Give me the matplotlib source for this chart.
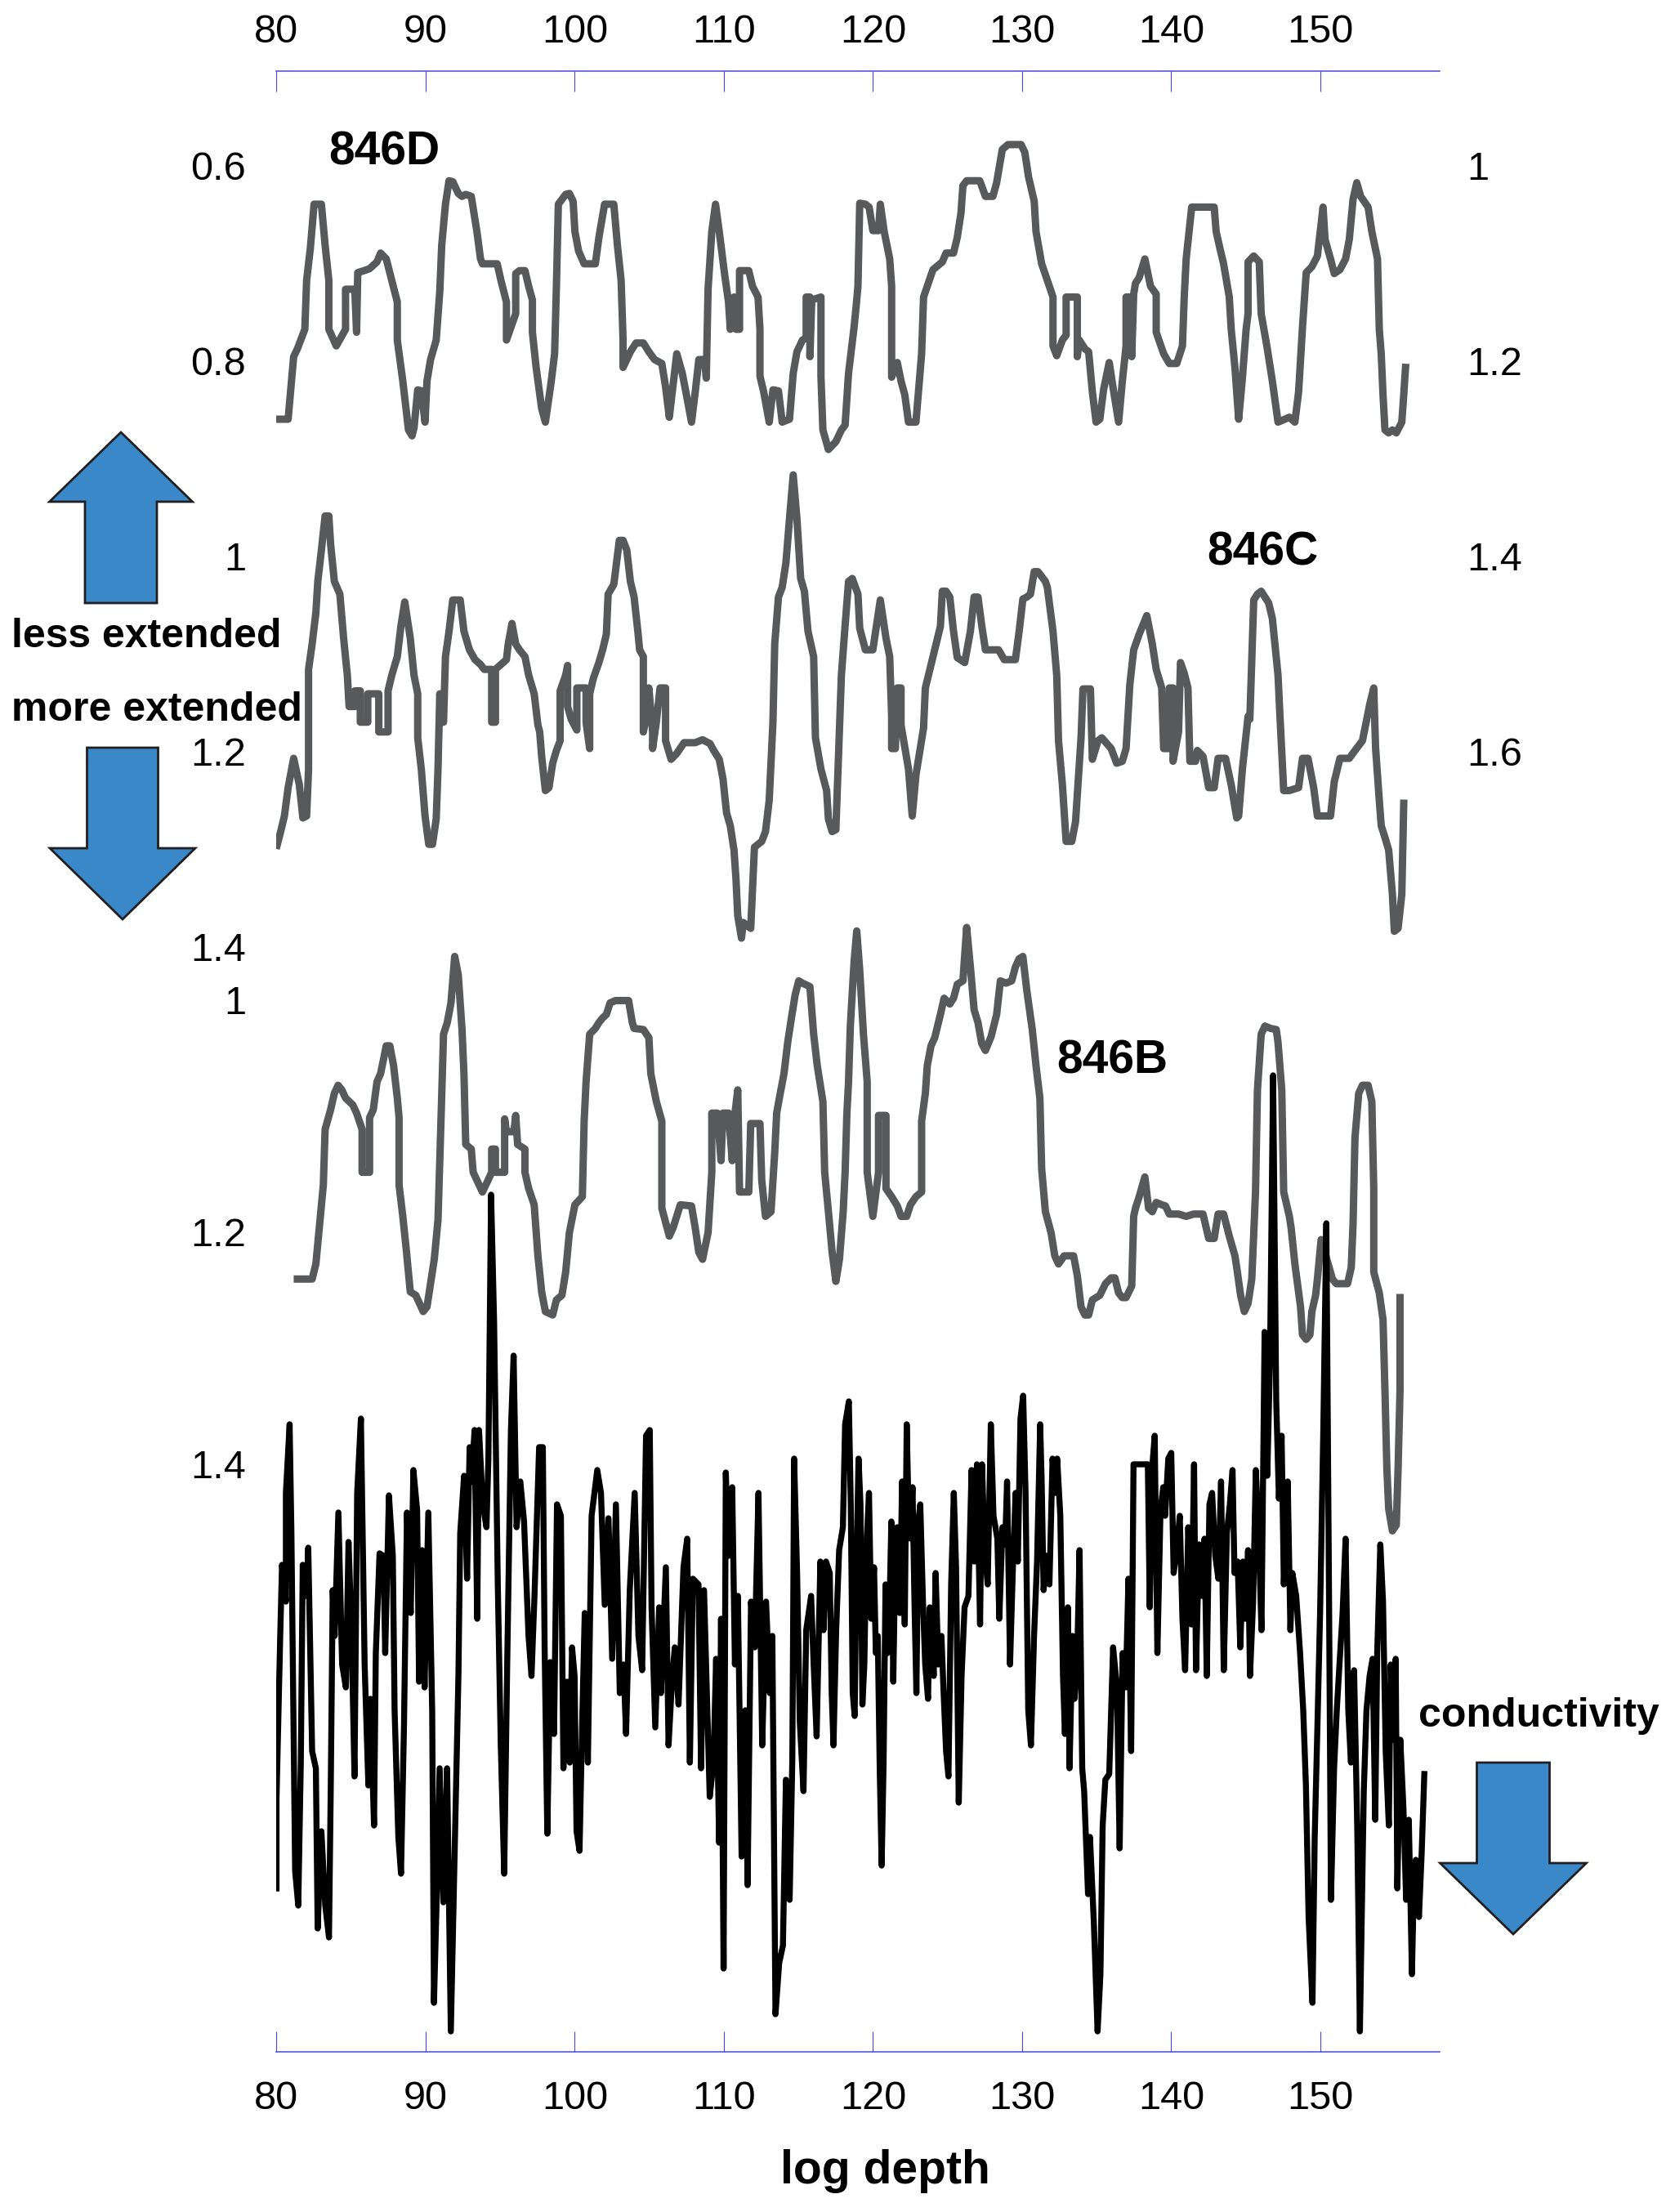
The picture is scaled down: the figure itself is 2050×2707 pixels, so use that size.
import numpy as np
import matplotlib
matplotlib.use('Agg')
import matplotlib.pyplot as plt
from matplotlib.patches import Polygon

plt.rcParams['font.family'] = ['Liberation Sans', 'DejaVu Sans']

# depth ticks
depth_ticks = [80, 90, 100, 110, 120, 130, 140, 150]

# 846D (left scale, inverted)
site_846D = [
    (79.91, 0.860), (80.78, 0.860), (81.15, 0.796), (81.40, 0.788), (81.90, 0.768), (82.02, 0.718),
    (82.27, 0.685), (82.52, 0.640), (83.01, 0.640), (83.26, 0.682), (83.51, 0.718), (83.51, 0.768),
    (84.01, 0.785), (84.63, 0.768), (84.63, 0.727), (85.25, 0.727), (85.37, 0.771), (85.45, 0.710),
    (85.87, 0.708), (86.24, 0.706), (86.74, 0.699), (86.98, 0.690), (87.36, 0.696), (87.73, 0.718),
    (88.10, 0.740), (88.10, 0.779), (88.47, 0.821), (88.85, 0.871), (89.09, 0.877), (89.22, 0.869),
    (89.47, 0.830), (89.71, 0.831), (89.96, 0.863), (90.09, 0.821), (90.33, 0.799), (90.71, 0.779),
    (90.95, 0.729), (91.08, 0.682), (91.33, 0.640), (91.57, 0.616), (91.82, 0.617), (92.19, 0.629),
    (92.44, 0.632), (92.69, 0.630), (93.06, 0.632), (93.44, 0.668), (93.68, 0.696), (93.81, 0.701),
    (94.80, 0.701), (95.05, 0.718), (95.42, 0.740), (95.42, 0.779), (96.04, 0.752), (96.04, 0.711),
    (96.29, 0.708), (96.66, 0.708), (96.91, 0.724), (97.16, 0.738), (97.16, 0.771), (97.41, 0.807),
    (97.78, 0.849), (98.03, 0.863), (98.40, 0.824), (98.65, 0.793), (98.77, 0.724), (98.90, 0.640),
    (99.39, 0.630), (99.64, 0.629), (99.89, 0.637), (100.01, 0.668), (100.26, 0.688), (100.63, 0.701),
    (101.38, 0.701), (101.62, 0.674), (102.00, 0.640), (102.62, 0.640), (102.86, 0.682), (103.11, 0.718),
    (103.24, 0.779), (103.24, 0.807), (103.73, 0.791), (104.11, 0.782), (104.60, 0.782), (104.97, 0.791),
    (105.35, 0.799), (105.84, 0.803), (106.09, 0.827), (106.34, 0.858), (106.84, 0.793), (107.21, 0.813),
    (107.45, 0.832), (107.83, 0.863), (108.08, 0.832), (108.32, 0.799), (108.70, 0.799), (108.82, 0.818),
    (108.94, 0.727), (109.19, 0.668), (109.44, 0.640), (109.69, 0.668), (110.06, 0.713), (110.31, 0.740),
    (110.43, 0.768), (110.68, 0.735), (110.81, 0.768), (111.05, 0.768), (111.05, 0.708), (111.67, 0.708),
    (111.92, 0.724), (112.29, 0.735), (112.42, 0.768), (112.42, 0.816), (112.67, 0.832), (113.04, 0.863),
    (113.29, 0.830), (113.66, 0.831), (113.91, 0.863), (114.40, 0.860), (114.65, 0.813), (114.90, 0.791),
    (115.27, 0.779), (115.52, 0.777), (115.52, 0.735), (115.77, 0.735), (115.77, 0.796), (115.89, 0.738),
    (116.51, 0.735), (116.51, 0.816), (116.64, 0.871), (117.01, 0.891), (117.51, 0.883), (117.88, 0.871),
    (118.13, 0.866), (118.36, 0.813), (118.73, 0.766), (118.86, 0.746), (118.99, 0.724), (119.11, 0.639),
    (119.49, 0.640), (119.74, 0.643), (119.99, 0.667), (120.37, 0.667), (120.49, 0.640), (120.75, 0.668),
    (121.12, 0.696), (121.25, 0.724), (121.25, 0.817), (121.63, 0.802), (121.88, 0.821), (122.13, 0.835),
    (122.38, 0.863), (122.88, 0.863), (123.26, 0.793), (123.39, 0.735), (123.64, 0.724), (124.02, 0.707),
    (124.65, 0.699), (124.90, 0.690), (125.40, 0.690), (125.65, 0.674), (125.90, 0.649), (126.03, 0.621),
    (126.28, 0.616), (127.16, 0.616), (127.54, 0.632), (128.04, 0.632), (128.29, 0.618), (128.67, 0.584),
    (129.05, 0.579), (129.93, 0.579), (130.18, 0.587), (130.43, 0.612), (130.81, 0.637), (130.93, 0.668),
    (131.31, 0.701), (131.82, 0.724), (132.07, 0.735), (132.07, 0.785), (132.32, 0.795), (132.70, 0.779),
    (132.95, 0.774), (132.95, 0.735), (133.70, 0.735), (133.70, 0.796), (133.83, 0.779), (134.21, 0.788),
    (134.46, 0.791), (134.71, 0.832), (134.96, 0.863), (135.21, 0.860), (135.46, 0.830), (135.84, 0.802),
    (136.09, 0.827), (136.47, 0.863), (136.72, 0.821), (136.97, 0.785), (136.97, 0.735), (137.22, 0.735),
    (137.35, 0.796), (137.48, 0.732), (137.60, 0.721), (137.85, 0.715), (138.23, 0.696), (138.61, 0.724),
    (138.99, 0.732), (138.99, 0.771), (139.49, 0.793), (139.87, 0.803), (140.37, 0.803), (140.75, 0.785),
    (140.87, 0.735), (141.00, 0.696), (141.37, 0.643), (142.88, 0.643), (143.01, 0.668), (143.26, 0.685),
    (143.51, 0.701), (143.89, 0.735), (144.02, 0.768), (144.27, 0.807), (144.52, 0.860), (144.77, 0.818),
    (145.02, 0.768), (145.15, 0.752), (145.15, 0.699), (145.53, 0.693), (145.90, 0.699), (146.03, 0.752),
    (146.41, 0.785), (146.78, 0.821), (147.16, 0.863), (147.92, 0.858), (148.29, 0.863), (148.54, 0.832),
    (148.80, 0.766), (149.05, 0.710), (149.43, 0.704), (149.80, 0.693), (150.18, 0.643), (150.31, 0.676),
    (150.68, 0.696), (150.93, 0.711), (151.31, 0.707), (151.69, 0.696), (151.94, 0.676), (152.19, 0.635),
    (152.44, 0.618), (152.70, 0.632), (153.20, 0.643), (153.45, 0.668), (153.83, 0.696), (153.95, 0.768),
    (154.08, 0.793), (154.20, 0.835), (154.33, 0.871), (154.58, 0.874), (154.83, 0.871), (155.09, 0.874),
    (155.46, 0.863), (155.59, 0.835), (155.71, 0.807),
]

# 846C (right scale, inverted)
site_846C = [
    (80.04, 1.696), (80.28, 1.682), (80.53, 1.666), (80.78, 1.637), (81.15, 1.607), (81.53, 1.634),
    (81.77, 1.668), (82.02, 1.666), (82.15, 1.618), (82.15, 1.516), (82.39, 1.490), (82.64, 1.458),
    (82.77, 1.426), (83.01, 1.394), (83.26, 1.359), (83.51, 1.359), (83.63, 1.388), (83.88, 1.426),
    (84.25, 1.439), (84.50, 1.484), (84.75, 1.522), (84.87, 1.554), (85.25, 1.554), (85.25, 1.538),
    (85.62, 1.538), (85.62, 1.570), (86.12, 1.570), (86.12, 1.541), (86.86, 1.541), (86.86, 1.580),
    (87.48, 1.580), (87.48, 1.538), (87.73, 1.522), (88.10, 1.503), (88.35, 1.471), (88.60, 1.447),
    (88.97, 1.484), (89.22, 1.522), (89.47, 1.541), (89.47, 1.586), (89.71, 1.618), (89.96, 1.666),
    (90.21, 1.695), (90.46, 1.695), (90.71, 1.669), (90.83, 1.618), (90.95, 1.541), (91.08, 1.570),
    (91.20, 1.570), (91.33, 1.503), (91.57, 1.477), (91.82, 1.445), (92.32, 1.445), (92.57, 1.477),
    (92.94, 1.496), (93.31, 1.506), (93.68, 1.511), (93.93, 1.516), (94.43, 1.516), (94.43, 1.570),
    (94.68, 1.570), (94.68, 1.516), (95.42, 1.506), (95.54, 1.490), (95.79, 1.469), (96.04, 1.490),
    (96.29, 1.496), (96.66, 1.503), (96.91, 1.522), (97.28, 1.541), (97.53, 1.573), (97.65, 1.580),
    (97.78, 1.605), (98.03, 1.640), (98.27, 1.637), (98.52, 1.612), (98.77, 1.599), (99.02, 1.589),
    (99.02, 1.538), (99.39, 1.522), (99.52, 1.512), (99.52, 1.554), (99.76, 1.567), (100.14, 1.578),
    (100.14, 1.535), (100.76, 1.535), (100.76, 1.570), (101.00, 1.597), (101.00, 1.541), (101.25, 1.525),
    (101.62, 1.509), (101.87, 1.496), (102.12, 1.480), (102.24, 1.439), (102.62, 1.429), (102.99, 1.384),
    (103.24, 1.384), (103.49, 1.394), (103.73, 1.426), (103.98, 1.442), (104.23, 1.477), (104.35, 1.496),
    (104.60, 1.503), (104.60, 1.580), (104.85, 1.560), (104.97, 1.535), (105.22, 1.580), (105.22, 1.597),
    (105.47, 1.570), (105.72, 1.535), (106.09, 1.535), (106.09, 1.589), (106.46, 1.608), (106.84, 1.602),
    (107.33, 1.591), (108.08, 1.591), (108.57, 1.588), (109.07, 1.592), (109.32, 1.599), (109.69, 1.608),
    (109.94, 1.628), (110.18, 1.663), (110.43, 1.676), (110.68, 1.701), (110.81, 1.730), (110.93, 1.768),
    (111.18, 1.791), (111.30, 1.775), (111.80, 1.781), (112.05, 1.698), (112.29, 1.695), (112.54, 1.692),
    (112.79, 1.682), (113.04, 1.650), (113.29, 1.570), (113.41, 1.490), (113.66, 1.442), (113.91, 1.432),
    (114.16, 1.407), (114.40, 1.362), (114.65, 1.317), (114.90, 1.362), (115.15, 1.423), (115.40, 1.436),
    (115.64, 1.477), (116.02, 1.503), (116.14, 1.586), (116.51, 1.618), (116.89, 1.640), (117.01, 1.669),
    (117.26, 1.682), (117.51, 1.680), (117.88, 1.522), (118.10, 1.477), (118.36, 1.426), (118.61, 1.423),
    (118.99, 1.439), (119.11, 1.474), (119.49, 1.496), (119.99, 1.496), (120.49, 1.445), (120.87, 1.484),
    (121.12, 1.503), (121.25, 1.564), (121.25, 1.597), (121.50, 1.597), (121.63, 1.535), (121.88, 1.535),
    (121.88, 1.573), (122.38, 1.618), (122.63, 1.666), (122.88, 1.624), (123.39, 1.576), (123.51, 1.535),
    (124.02, 1.503), (124.52, 1.472), (124.65, 1.436), (124.90, 1.436), (125.15, 1.442), (125.40, 1.477),
    (125.65, 1.504), (126.15, 1.509), (126.53, 1.477), (126.78, 1.442), (127.04, 1.442), (127.29, 1.471),
    (127.54, 1.496), (128.42, 1.496), (128.80, 1.506), (129.55, 1.506), (129.80, 1.477), (130.05, 1.444),
    (130.31, 1.442), (130.56, 1.439), (130.81, 1.416), (131.06, 1.416), (131.56, 1.426), (131.69, 1.432),
    (132.07, 1.477), (132.32, 1.522), (132.44, 1.589), (132.70, 1.634), (132.95, 1.692), (133.33, 1.692),
    (133.58, 1.672), (133.95, 1.586), (134.08, 1.536), (134.58, 1.536), (134.71, 1.608), (135.09, 1.589),
    (135.34, 1.586), (135.97, 1.597), (136.34, 1.612), (136.72, 1.610), (136.97, 1.597), (137.22, 1.532),
    (137.48, 1.496), (137.85, 1.480), (138.36, 1.461), (138.73, 1.490), (138.99, 1.516), (139.36, 1.535),
    (139.49, 1.597), (139.87, 1.597), (139.87, 1.535), (140.12, 1.535), (140.12, 1.610), (140.49, 1.580),
    (140.62, 1.509), (140.87, 1.520), (141.12, 1.535), (141.25, 1.610), (141.63, 1.610), (141.75, 1.599),
    (142.13, 1.605), (142.51, 1.637), (142.88, 1.637), (143.14, 1.607), (143.64, 1.607), (144.02, 1.634),
    (144.39, 1.668), (144.52, 1.666), (144.77, 1.618), (145.15, 1.564), (145.27, 1.567), (145.53, 1.445),
    (145.78, 1.439), (146.03, 1.436), (146.53, 1.448), (146.78, 1.464), (147.16, 1.522), (147.29, 1.564),
    (147.54, 1.640), (147.92, 1.640), (148.54, 1.637), (148.80, 1.607), (149.17, 1.607), (149.55, 1.637),
    (149.80, 1.666), (150.68, 1.666), (150.93, 1.631), (151.31, 1.607), (151.94, 1.607), (152.32, 1.599),
    (152.82, 1.589), (153.07, 1.570), (153.32, 1.551), (153.58, 1.535), (153.70, 1.596), (153.95, 1.650),
    (154.08, 1.676), (154.33, 1.688), (154.58, 1.701), (154.83, 1.746), (154.96, 1.784), (155.21, 1.781),
    (155.46, 1.746), (155.59, 1.653),
]

# 846B (second left scale, inverted)
site_846B = [
    (81.40, 1.241), (82.39, 1.241), (82.64, 1.228), (82.89, 1.194), (83.14, 1.160), (83.26, 1.112),
    (83.63, 1.095), (83.88, 1.081), (84.13, 1.074), (84.38, 1.078), (84.63, 1.085), (85.12, 1.091),
    (85.37, 1.098), (85.74, 1.112), (85.74, 1.149), (86.24, 1.149), (86.24, 1.102), (86.49, 1.095),
    (86.74, 1.071), (86.98, 1.064), (87.36, 1.040), (87.60, 1.040), (87.85, 1.057), (88.10, 1.085),
    (88.22, 1.102), (88.22, 1.160), (88.47, 1.187), (88.72, 1.218), (88.97, 1.252), (89.34, 1.255),
    (89.59, 1.262), (89.84, 1.269), (90.09, 1.265), (90.33, 1.245), (90.58, 1.224), (90.83, 1.190),
    (90.95, 1.139), (91.08, 1.081), (91.20, 1.030), (91.45, 1.020), (91.70, 1.003), (91.95, 0.963),
    (92.19, 0.979), (92.44, 1.026), (92.57, 1.064), (92.69, 1.125), (93.06, 1.129), (93.19, 1.149),
    (93.81, 1.166), (94.18, 1.156), (94.43, 1.149), (94.43, 1.129), (94.68, 1.129), (94.68, 1.149),
    (95.30, 1.149), (95.30, 1.103), (95.42, 1.114), (95.92, 1.114), (96.04, 1.100), (96.17, 1.125),
    (96.66, 1.129), (96.66, 1.149), (96.91, 1.163), (97.28, 1.177), (97.53, 1.221), (97.78, 1.252),
    (98.03, 1.269), (98.52, 1.272), (98.77, 1.259), (99.14, 1.255), (99.39, 1.235), (99.64, 1.201),
    (100.01, 1.177), (100.51, 1.170), (100.63, 1.105), (100.76, 1.071), (101.00, 1.030), (101.38, 1.025),
    (101.62, 1.020), (101.87, 1.016), (102.12, 1.013), (102.37, 1.003), (102.74, 1.001), (103.61, 1.001),
    (103.86, 1.020), (103.98, 1.025), (104.60, 1.026), (104.97, 1.033), (105.10, 1.064), (105.47, 1.088),
    (105.84, 1.105), (105.84, 1.180), (106.34, 1.204), (106.59, 1.197), (107.08, 1.177), (107.83, 1.178),
    (108.08, 1.197), (108.32, 1.218), (108.57, 1.224), (108.94, 1.201), (109.19, 1.149), (109.19, 1.098),
    (109.56, 1.098), (109.81, 1.139), (109.94, 1.098), (110.31, 1.098), (110.56, 1.139), (110.68, 1.105),
    (110.93, 1.078), (111.05, 1.166), (111.67, 1.166), (111.80, 1.107), (112.42, 1.107), (112.54, 1.156),
    (112.79, 1.187), (113.16, 1.183), (113.41, 1.132), (113.54, 1.098), (113.78, 1.081), (114.03, 1.064),
    (114.28, 1.037), (114.53, 1.016), (114.78, 0.996), (115.02, 0.984), (115.27, 0.986), (115.77, 0.989),
    (116.02, 1.030), (116.26, 1.057), (116.64, 1.088), (116.76, 1.149), (117.01, 1.183), (117.26, 1.218),
    (117.51, 1.243), (117.75, 1.224), (118.00, 1.183), (118.13, 1.149), (118.25, 1.098), (118.36, 1.071),
    (118.48, 1.023), (118.73, 0.968), (118.91, 0.941), (119.11, 0.975), (119.36, 1.030), (119.61, 1.071),
    (119.61, 1.149), (119.99, 1.187), (120.37, 1.149), (120.37, 1.100), (120.87, 1.100), (120.87, 1.163),
    (121.25, 1.170), (121.63, 1.178), (121.88, 1.187), (122.26, 1.187), (122.51, 1.177), (122.88, 1.170),
    (123.26, 1.166), (123.26, 1.105), (123.51, 1.081), (123.64, 1.057), (123.89, 1.040), (124.14, 1.033),
    (124.52, 1.013), (124.77, 0.999), (125.15, 1.004), (125.40, 0.999), (125.65, 0.987), (126.03, 0.984),
    (126.28, 0.938), (126.53, 0.972), (126.78, 1.009), (127.04, 1.020), (127.29, 1.038), (127.54, 1.044),
    (127.92, 1.032), (128.29, 1.013), (128.54, 0.984), (128.92, 0.986), (129.30, 0.984), (129.55, 0.972),
    (129.80, 0.965), (130.05, 0.963), (130.31, 0.992), (130.68, 1.026), (130.93, 1.057), (131.19, 1.085),
    (131.31, 1.146), (131.56, 1.183), (131.94, 1.201), (132.19, 1.221), (132.44, 1.228), (132.82, 1.221),
    (133.45, 1.221), (133.70, 1.238), (133.95, 1.265), (134.21, 1.272), (134.46, 1.272), (134.71, 1.259),
    (135.21, 1.255), (135.59, 1.245), (135.97, 1.240), (136.22, 1.240), (136.47, 1.253), (136.72, 1.257),
    (136.97, 1.257), (137.35, 1.247), (137.48, 1.187), (137.60, 1.180), (137.85, 1.170), (138.23, 1.153),
    (138.48, 1.180), (138.73, 1.183), (138.99, 1.175), (139.36, 1.177), (139.61, 1.178), (139.87, 1.185),
    (140.49, 1.185), (141.00, 1.187), (141.50, 1.185), (142.13, 1.185), (142.51, 1.206), (142.88, 1.206),
    (143.14, 1.185), (143.51, 1.185), (143.89, 1.204), (144.27, 1.221), (144.39, 1.231), (144.65, 1.255),
    (144.90, 1.269), (145.15, 1.262), (145.40, 1.241), (145.65, 1.166), (145.78, 1.078), (146.03, 1.030),
    (146.28, 1.023), (146.66, 1.025), (147.04, 1.026), (147.16, 1.037), (147.41, 1.078), (147.54, 1.166),
    (147.92, 1.187), (148.04, 1.197), (148.29, 1.228), (148.67, 1.265), (148.80, 1.289), (149.05, 1.293),
    (149.30, 1.289), (149.43, 1.269), (149.68, 1.255), (149.80, 1.241), (150.05, 1.207), (150.81, 1.241),
    (151.06, 1.245), (151.82, 1.245), (152.07, 1.231), (152.19, 1.194), (152.32, 1.119), (152.57, 1.081),
    (152.82, 1.074), (153.20, 1.074), (153.45, 1.088), (153.58, 1.163), (153.58, 1.235), (153.95, 1.253),
    (154.20, 1.276), (154.33, 1.337), (154.46, 1.405), (154.58, 1.439), (154.83, 1.458), (155.09, 1.453),
    (155.21, 1.405), (155.34, 1.337), (155.34, 1.257),
]

# conductivity (arbitrary units, no scale shown, inverted)
conductivity = [
    (80.00, 89.1), (80.00, 78.2), (80.25, 58.2), (80.37, 49.5), (80.63, 54.0), (80.63, 40.7),
    (80.88, 32.3), (81.00, 45.6), (81.13, 67.3), (81.25, 87.0), (81.46, 91.2), (81.63, 73.7),
    (81.76, 49.5), (82.01, 53.3), (82.13, 47.4), (82.39, 72.3), (82.64, 74.4), (82.76, 94.0),
    (83.01, 82.1), (83.27, 91.2), (83.52, 95.1), (83.64, 76.5), (83.77, 52.6), (83.90, 58.2),
    (84.15, 43.1), (84.40, 61.7), (84.65, 64.5), (84.83, 46.7), (85.03, 57.5), (85.23, 75.4),
    (85.41, 40.7), (85.66, 31.6), (85.91, 61.7), (86.16, 76.5), (86.29, 65.9), (86.54, 81.4),
    (86.66, 60.3), (86.91, 48.1), (87.17, 48.4), (87.29, 60.3), (87.54, 41.0), (87.80, 48.4),
    (87.92, 67.3), (88.17, 82.8), (88.35, 87.3), (88.55, 69.1), (88.75, 43.1), (89.00, 55.4),
    (89.18, 37.9), (89.43, 42.8), (89.56, 63.8), (89.76, 47.7), (89.93, 64.5), (90.18, 43.1),
    (90.44, 67.3), (90.56, 103.1), (90.76, 89.1), (90.94, 74.4), (91.19, 90.8), (91.32, 83.5),
    (91.44, 74.4), (91.69, 106.6), (91.95, 84.2), (92.20, 63.1), (92.32, 45.6), (92.58, 38.6),
    (92.78, 51.2), (92.95, 35.1), (93.08, 39.3), (93.28, 33.0), (93.46, 56.1), (93.58, 33.0),
    (93.83, 42.1), (94.08, 44.9), (94.21, 36.5), (94.39, 4.2), (94.59, 19.6), (94.84, 51.9),
    (95.04, 71.6), (95.27, 87.3), (95.47, 61.7), (95.72, 33.0), (95.90, 23.9), (96.10, 44.9),
    (96.35, 39.3), (96.60, 44.2), (96.90, 58.2), (97.10, 63.1), (97.30, 53.3), (97.61, 35.1),
    (97.86, 35.1), (97.98, 59.6), (98.16, 82.4), (98.36, 61.4), (98.61, 70.2), (98.81, 42.1),
    (99.07, 43.5), (99.24, 74.4), (99.49, 63.8), (99.67, 73.7), (99.82, 59.6), (99.99, 63.1),
    (100.12, 82.1), (100.32, 84.5), (100.50, 68.7), (100.67, 55.4), (100.88, 73.7), (101.13, 43.5),
    (101.51, 37.9), (101.76, 40.7), (102.01, 54.4), (102.26, 43.8), (102.51, 61.0), (102.76, 42.1),
    (103.02, 65.2), (103.27, 61.7), (103.44, 70.2), (103.69, 52.6), (104.02, 40.7), (104.27, 58.2),
    (104.52, 62.4), (104.78, 33.7), (105.03, 33.0), (105.15, 54.7), (105.40, 69.4), (105.66, 54.7),
    (105.78, 65.2), (106.11, 49.8), (106.29, 71.6), (106.54, 63.1), (106.71, 59.6), (106.96, 66.6),
    (107.29, 49.8), (107.54, 46.3), (107.72, 73.7), (107.92, 51.2), (108.30, 51.9), (108.47, 74.4),
    (108.67, 52.6), (109.05, 77.9), (109.30, 73.7), (109.48, 61.0), (109.68, 83.5), (109.81, 56.1),
    (109.98, 98.9), (110.13, 38.2), (110.31, 48.4), (110.56, 40.0), (110.74, 61.7), (110.94, 53.3),
    (111.19, 85.2), (111.44, 67.3), (111.59, 88.7), (111.82, 54.0), (112.07, 59.6), (112.32, 40.7),
    (112.57, 71.6), (112.83, 54.0), (113.08, 65.2), (113.25, 58.2), (113.46, 104.5), (113.71, 98.2),
    (113.96, 96.1), (114.16, 75.8), (114.41, 90.5), (114.59, 73.3), (114.71, 36.5), (114.91, 50.5),
    (115.09, 68.7), (115.34, 77.2), (115.52, 57.5), (115.85, 53.3), (116.02, 61.7), (116.22, 70.5),
    (116.47, 49.1), (116.68, 57.5), (116.85, 49.1), (117.10, 50.5), (117.23, 65.2), (117.35, 71.6),
    (117.53, 57.5), (117.73, 47.7), (117.98, 44.9), (118.13, 32.3), (118.38, 29.5), (118.51, 42.1),
    (118.64, 65.2), (118.77, 68.0), (118.90, 49.1), (119.03, 36.5), (119.16, 42.1), (119.29, 66.6),
    (119.42, 61.7), (119.55, 47.7), (119.73, 40.7), (119.88, 56.1), (120.07, 49.8), (120.19, 60.3),
    (120.32, 58.2), (120.45, 74.4), (120.58, 86.3), (120.71, 73.7), (120.84, 51.9), (120.97, 60.3),
    (121.10, 55.4), (121.23, 44.2), (121.36, 63.8), (121.49, 49.1), (121.62, 44.9), (121.80, 55.4),
    (121.95, 39.3), (122.13, 56.8), (122.26, 32.3), (122.39, 43.5), (122.52, 46.3), (122.65, 40.0),
    (122.78, 54.0), (122.91, 65.2), (123.04, 44.2), (123.17, 42.1), (123.35, 54.0), (123.50, 61.7),
    (123.69, 65.9), (123.81, 54.7), (124.07, 63.1), (124.20, 50.5), (124.38, 61.7), (124.59, 58.2),
    (124.72, 64.5), (124.90, 72.3), (125.06, 75.4), (125.24, 51.9), (125.42, 40.7), (125.57, 49.8),
    (125.75, 78.6), (125.94, 63.1), (126.14, 54.7), (126.40, 53.3), (126.61, 37.9), (126.79, 49.1),
    (126.97, 37.2), (127.18, 56.8), (127.31, 37.2), (127.49, 47.7), (127.69, 51.9), (127.90, 32.3),
    (128.08, 43.5), (128.34, 46.3), (128.47, 56.1), (128.68, 44.9), (128.86, 47.0), (128.99, 39.3),
    (129.19, 61.7), (129.37, 50.5), (129.56, 40.7), (129.71, 49.1), (129.89, 31.6), (130.07, 28.8),
    (130.23, 40.7), (130.41, 67.3), (130.59, 71.6), (130.80, 58.2), (131.00, 49.1), (131.21, 32.3),
    (131.31, 39.3), (131.44, 52.6), (131.62, 48.4), (131.83, 51.9), (132.04, 36.5), (132.22, 40.7),
    (132.35, 36.5), (132.56, 43.5), (132.74, 63.1), (132.87, 70.2), (133.07, 54.7), (133.18, 74.4),
    (133.38, 58.2), (133.51, 65.9), (133.69, 61.0), (133.85, 47.7), (134.03, 74.4), (134.16, 77.2),
    (134.42, 89.8), (134.55, 82.8), (134.81, 93.3), (135.06, 106.6), (135.25, 99.6), (135.40, 81.4),
    (135.58, 75.8), (135.84, 75.1), (136.10, 59.6), (136.36, 64.5), (136.54, 84.2), (136.74, 60.3),
    (136.95, 64.5), (137.13, 51.2), (137.31, 72.3), (137.47, 37.2), (137.78, 37.2), (138.43, 37.2),
    (138.56, 54.7), (138.71, 37.9), (138.89, 33.7), (139.07, 60.3), (139.28, 42.8), (139.46, 40.0),
    (139.59, 43.5), (139.80, 36.5), (140.00, 35.8), (140.16, 50.5), (140.37, 47.7), (140.57, 43.5),
    (140.75, 56.1), (140.93, 62.4), (141.14, 44.9), (141.35, 56.8), (141.53, 37.2), (141.66, 62.4),
    (141.86, 47.0), (142.05, 53.3), (142.23, 46.3), (142.38, 63.1), (142.56, 42.1), (142.74, 40.7),
    (142.95, 48.4), (143.16, 51.2), (143.34, 39.3), (143.52, 62.4), (143.73, 45.6), (143.93, 42.1),
    (144.11, 37.9), (144.24, 50.5), (144.45, 49.1), (144.63, 59.6), (144.81, 49.1), (144.97, 56.1),
    (145.15, 47.7), (145.28, 63.1), (145.49, 54.0), (145.67, 37.9), (145.85, 44.9), (146.05, 57.5),
    (146.26, 21.0), (146.44, 38.6), (146.62, 24.6), (146.83, -10.4), (147.04, 29.5), (147.22, 41.4),
    (147.40, 33.7), (147.55, 51.9), (147.81, 39.3), (147.99, 57.5), (148.12, 50.5), (148.38, 53.3),
    (148.64, 60.3), (148.85, 67.3), (149.03, 76.5), (149.21, 92.6), (149.47, 103.1), (149.62, 82.8),
    (149.80, 69.4), (149.98, 55.4), (150.19, 33.7), (150.40, 7.7), (150.58, 53.3), (150.71, 90.5),
    (150.92, 74.4), (151.10, 67.3), (151.28, 61.7), (151.49, 55.4), (151.69, 46.3), (151.87, 67.3),
    (152.05, 73.7), (152.26, 62.4), (152.47, 81.4), (152.65, 106.6), (152.91, 77.2), (153.09, 67.3),
    (153.30, 63.1), (153.50, 61.0), (153.68, 80.7), (153.81, 60.3), (154.02, 47.0), (154.20, 54.0),
    (154.38, 72.3), (154.59, 81.4), (154.72, 61.7), (154.90, 70.9), (155.05, 61.0), (155.16, 89.1),
    (155.36, 70.9), (155.57, 79.3), (155.75, 90.5), (155.93, 80.7), (156.14, 99.6), (156.27, 88.4),
    (156.40, 85.6), (156.61, 92.6), (156.79, 84.9), (156.97, 75.1),
]

W_PX, H_PX = 2050, 2707
fig = plt.figure(figsize=(W_PX / 100, H_PX / 100), dpi=100)

blue = '#4848e0'
gray = '#58595b'

# main axes: depth axis at the bottom, 846D on the left scale
ax = fig.add_axes([338.4 / W_PX, 1 - 2511 / H_PX, 1423.6 / W_PX, 2424 / H_PX])
ax.set_xlim(80, 158)
ax.set_ylim(2.5306, 0.5038)
for s in ['left', 'right', 'top']:
    ax.spines[s].set_visible(False)
ax.spines['bottom'].set_color(blue)
ax.spines['bottom'].set_linewidth(1.1)
ax.set_xticks(depth_ticks)
ax.tick_params(axis='x', top=False, bottom=True, direction='in', length=18, width=0.8,
               color=blue, labelsize=35, pad=25)
ax.set_yticks([0.6, 0.8, 1, 1.2, 1.4])
ax.set_yticklabels(['0.6', '0.8', '1', '1.2', '1.4'])
ax.tick_params(axis='y', left=True, right=False, length=0, labelsize=35, pad=27)
ax.set_xlabel('log depth', fontsize=41, fontweight='bold')
ax.xaxis.set_label_coords(0.523, -0.0602)
ax.xaxis.label.set_va('center')

# same depth axis repeated on top
top = ax.secondary_xaxis('top')
top.set_xticks(depth_ticks)
top.spines['top'].set_color(blue)
top.spines['top'].set_linewidth(1.1)
top.tick_params(axis='x', direction='in', length=18, width=0.8, color=blue, labelsize=35, pad=18)

d = np.array(site_846D)
ax.plot(d[:, 0], d[:, 1], color=gray, lw=6.5)

# 846C on the right scale
axC = ax.twinx()
axC.set_ylim(2.9306, 0.9038)
for s in axC.spines.values():
    s.set_visible(False)
axC.set_yticks([1, 1.2, 1.4, 1.6])
axC.set_yticklabels(['1', '1.2', '1.4', '1.6'])
axC.tick_params(axis='y', length=0, labelsize=35, pad=24)
c = np.array(site_846C)
axC.plot(c[:, 0], c[:, 1], color=gray, lw=6.5)

# 846B on its own left scale
axB = ax.twinx()
axB.set_ylim(1.907, 0.2)
for s in axB.spines.values():
    s.set_visible(False)
axB.yaxis.tick_left()
axB.set_yticks([1, 1.2, 1.4])
axB.set_yticklabels(['1', '1.2', '1.4'])
axB.tick_params(axis='y', length=0, labelsize=35, pad=27)
b = np.array(site_846B)
axB.plot(b[:, 0], b[:, 1], color=gray, lw=6.5)

# conductivity, no scale
axK = ax.twinx()
axK.set_ylim(109.1, -133.3)
for s in axK.spines.values():
    s.set_visible(False)
axK.set_yticks([])
k = np.array(conductivity)
axK.plot(k[:, 0], k[:, 1], color='black', lw=5.3)

# labels
fig.text(470 / W_PX, 1 - 187 / H_PX, '846D', fontsize=41, fontweight='bold', ha='center', va='center')
fig.text(1545 / W_PX, 1 - 676 / H_PX, '846C', fontsize=41, fontweight='bold', ha='center', va='center')
fig.text(1361 / W_PX, 1 - 1299 / H_PX, '846B', fontsize=41, fontweight='bold', ha='center', va='center')
fig.text(14 / W_PX, 1 - 779 / H_PX, 'less extended', fontsize=36, fontweight='bold', ha='left', va='center')
fig.text(14 / W_PX, 1 - 869 / H_PX, 'more extended', fontsize=36, fontweight='bold', ha='left', va='center')
fig.text(1736 / W_PX, 1 - 2100 / H_PX, 'conductivity', fontsize=36, fontweight='bold', ha='left', va='center')


def block_arrow(cx, top, bottom, shaft_w, head_w, head_len, up=True):
    # outline in pixels, converted to figure fraction
    if up:
        base = top + head_len
        pts = [(cx, top), (cx + head_w / 2, base), (cx + shaft_w / 2, base), (cx + shaft_w / 2, bottom),
               (cx - shaft_w / 2, bottom), (cx - shaft_w / 2, base), (cx - head_w / 2, base)]
    else:
        base = bottom - head_len
        pts = [(cx, bottom), (cx + head_w / 2, base), (cx + shaft_w / 2, base), (cx + shaft_w / 2, top),
               (cx - shaft_w / 2, top), (cx - shaft_w / 2, base), (cx - head_w / 2, base)]
    pts = [(x / W_PX, 1 - y / H_PX) for x, y in pts]
    fig.patches.append(Polygon(pts, closed=True, transform=fig.transFigure, facecolor='#3a88c8',
                               edgecolor='#231f20', lw=2))


block_arrow(148, 529, 738, 88, 175, 85, up=True)
block_arrow(150, 915, 1125, 87, 178, 87, up=False)
block_arrow(1852, 2157, 2367, 89, 179, 87, up=False)

fig.savefig('out.png', dpi=100)
